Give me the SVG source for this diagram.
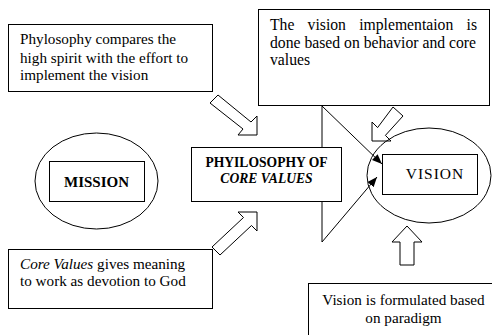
<svg xmlns="http://www.w3.org/2000/svg" width="492" height="335" viewBox="0 0 492 335" font-family="'Liberation Serif', 'Times New Roman', serif">
<style>
.t{font-size:15.2px}
.t2{font-size:15.7px}
.box{fill:#fff;stroke:#000;stroke-width:1}
.ell{fill:none;stroke:#000;stroke-width:1}
.blk{fill:#fff;stroke:#000;stroke-width:1;stroke-linejoin:miter}
.ln{fill:none;stroke:#000;stroke-width:1}
</style>
<defs>
<marker id="ah" viewBox="0 0 10 10" refX="10" refY="5" markerWidth="10" markerHeight="10" markerUnits="userSpaceOnUse" orient="auto">
<path d="M0,1 L10,5 L0,9 Z" fill="#000"/>
</marker>
</defs>
<rect width="492" height="335" fill="#fff"/>

<g id="connectors">
<path class="ln" d="M322,106 V242"/>
<path class="ln" d="M322,106 L382,164" marker-end="url(#ah)"/>
<path class="ln" d="M322,242 L377,177" marker-end="url(#ah)"/>
<polygon class="blk" points="210,103 218,95 251,122 257,116 257,135 238,135 243,129"/>
<polygon class="blk" points="212,247 243.5,217.5 238,212 257,212 257,231 251.5,225.5 220,255"/>
<polygon class="blk" points="393,107 377.6,127.6 372,122 372,141 391,141 385.4,135.4 403,116"/>
<polygon class="blk" points="407,226 392,242 400,242 400,265 414,265 414,242 422,242"/>
</g>

<g id="note-philosophy">
<rect class="box" x="8.5" y="24.5" width="204" height="67"/>
<text class="t" x="20" y="44">Phylosophy compares the</text>
<text class="t" x="20" y="62.5">high spirit with the effort to</text>
<text class="t" x="20" y="80">implement the vision</text>
</g>

<g id="note-implementation">
<rect class="box" x="258.5" y="9.5" width="231" height="96"/>
<text class="t2" y="29.5"><tspan x="270">The</tspan><tspan x="307.6">vision</tspan><tspan x="359.2">implementaion</tspan><tspan x="466.6">is</tspan></text>
<text class="t2" x="270" y="47.5">done based on behavior and core</text>
<text class="t2" x="270" y="64.5">values</text>
</g>

<g id="mission">
<ellipse class="ell" cx="96.5" cy="181" rx="61.5" ry="48"/>
<rect class="box" x="49.5" y="161.5" width="95" height="40"/>
<text x="96.5" y="187" text-anchor="middle" font-weight="bold" font-size="15">MISSION</text>
</g>

<g id="philosophy">
<rect class="box" x="191.5" y="147.5" width="150" height="54"/>
<text x="266.5" y="166.5" text-anchor="middle" font-weight="bold" font-size="13.6">PHYILOSOPHY OF</text>
<text x="266.5" y="182.5" text-anchor="middle" font-weight="bold" font-style="italic" font-size="13.6">CORE VALUES</text>
</g>

<g id="vision">
<ellipse class="ell" cx="429" cy="175.5" rx="62" ry="47.5"/>
<rect class="box" x="382.5" y="154.5" width="95" height="40"/>
<text x="435" y="179" text-anchor="middle" font-size="15.5" letter-spacing="1">VISION</text>
</g>

<g id="note-core-values">
<rect class="box" x="8.5" y="249.5" width="204" height="59"/>
<text class="t" x="20" y="268.5"><tspan font-style="italic">Core Values</tspan> gives meaning</text>
<text class="t" x="20" y="286">to work as devotion to God</text>
</g>

<g id="note-paradigm">
<rect class="box" x="308.5" y="283.5" width="192" height="70"/>
<text class="t" x="403.5" y="305" text-anchor="middle">Vision is formulated based</text>
<text class="t" x="403.5" y="322.5" text-anchor="middle">on paradigm</text>
</g>
</svg>
